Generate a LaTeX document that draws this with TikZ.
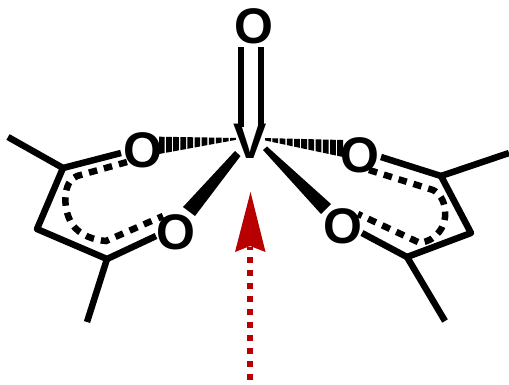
\documentclass[tikz,border=0pt]{standalone}
\usepackage{fontspec}
\setmainfont{Liberation Sans}
\definecolor{arrowred}{HTML}{B80000}
\tikzset{
  atom/.style={font=\fontsize{50}{50}\selectfont\bfseries,inner sep=0pt,text=black},
  bondline/.style={line width=6.5pt,draw=black,line join=round},
  dashline/.style={line width=6.5pt,draw=black,dash pattern=on 8.5pt off 7pt},
  wedgefill/.style={fill=black,draw=none},
  hash/.style={fill=black,draw=none}
}
\begin{document}
\begin{tikzpicture}[x=1pt,y=-1pt]
\useasboundingbox (0,0) rectangle (509,384);
\node[atom] (Otop) at (254,26) {O};
\node[atom] (V) at (250,141) {V};
\node[atom] (O1) at (143,150) {O};
\node[atom] (O2) at (176,232) {O};
\node[atom] (O3) at (360,155) {O};
\node[atom] (O4) at (343,226) {O};
% skeleton points
\coordinate (LMe1) at (8,137);
\coordinate (LC1) at (63,168);
\coordinate (LCH) at (37,229);
\coordinate (LC2) at (107,259);
\coordinate (LMe2) at (87,322);
\coordinate (LO1) at (121,153);
\coordinate (LO2) at (156,236);
\coordinate (RMe1) at (509,153);
\coordinate (RC1) at (441,176);
\coordinate (RCH) at (471,233);
\coordinate (RC2) at (407,257);
\coordinate (RMe2) at (445,321);
\coordinate (RO1) at (381,157);
\coordinate (RO2) at (362,233);
\draw[bondline] (LMe1) -- (LC1) -- (LCH) -- (LC2) -- (LMe2);
\draw[bondline] (LO1) -- (LC1);
\draw[bondline] (LO2) -- (LC2);
\draw[bondline] (RMe1) -- (RC1) -- (RCH) -- (RC2) -- (RMe2);
\draw[bondline] (RO1) -- (RC1);
\draw[bondline] (RO2) -- (RC2);
% delocalised dashed arcs
\draw[dashline] (127,162) -- (77,176) .. controls (63,181) and (62,208) .. (72,224)
  .. controls (80,236) and (95,240) .. (106,241) -- (163,216);
\draw[dashline] (369,170) -- (433,190) .. controls (447,197) and (449,220) .. (439,232)
  .. controls (432,240) and (428,241) .. (420,243) -- (358,214);
% V=O
\draw[line width=6pt] (241,47) -- (241,127);
\draw[line width=6pt] (261,47) -- (261,127);
% solid wedges
\fill[wedgefill] (235,151) -- (240.5,156) -- (195,216) -- (183,207) -- cycle;
\fill[wedgefill] (263,150) -- (267,146.5) -- (331,204) -- (321,214) -- cycle;
% hashed wedges
\foreach \t in {0,0.09,...,0.95}{
  \pgfmathsetmacro{\xa}{159+79*\t}
  \pgfmathsetmacro{\xb}{\xa+79*0.072}
  \pgfmathsetmacro{\ha}{136.7+(138-136.7)*\t}
  \pgfmathsetmacro{\la}{154+(139.5-154)*\t}
  \pgfmathsetmacro{\tb}{\t+0.072}
  \pgfmathsetmacro{\hb}{136.7+(138-136.7)*\tb}
  \pgfmathsetmacro{\lb}{154+(139.5-154)*\tb}
  \fill[hash] (\xa,\ha) -- (\xb,\hb) -- (\xb,\lb) -- (\xa,\la) -- cycle;
}
\foreach \t in {0,0.09,...,0.95}{
  \pgfmathsetmacro{\xa}{343-80*\t}
  \pgfmathsetmacro{\xb}{\xa-80*0.072}
  \pgfmathsetmacro{\ha}{140+(138-140)*\t}
  \pgfmathsetmacro{\la}{157+(140-157)*\t}
  \pgfmathsetmacro{\tb}{\t+0.072}
  \pgfmathsetmacro{\hb}{140+(138-140)*\tb}
  \pgfmathsetmacro{\lb}{157+(140-157)*\tb}
  \fill[hash] (\xa,\ha) -- (\xb,\hb) -- (\xb,\lb) -- (\xa,\la) -- cycle;
}
% red arrow
\coordinate (ArrowTail) at (250,380);
\coordinate (ArrowNotch) at (250,247);
\draw[arrowred,line width=6.5pt,dash pattern=on 6.5pt off 6.5pt] (ArrowTail) -- (ArrowNotch);
\fill[arrowred] (250.5,192) -- (265.5,252) -- (250,246) -- (235,252) -- cycle;
\end{tikzpicture}
\end{document}
